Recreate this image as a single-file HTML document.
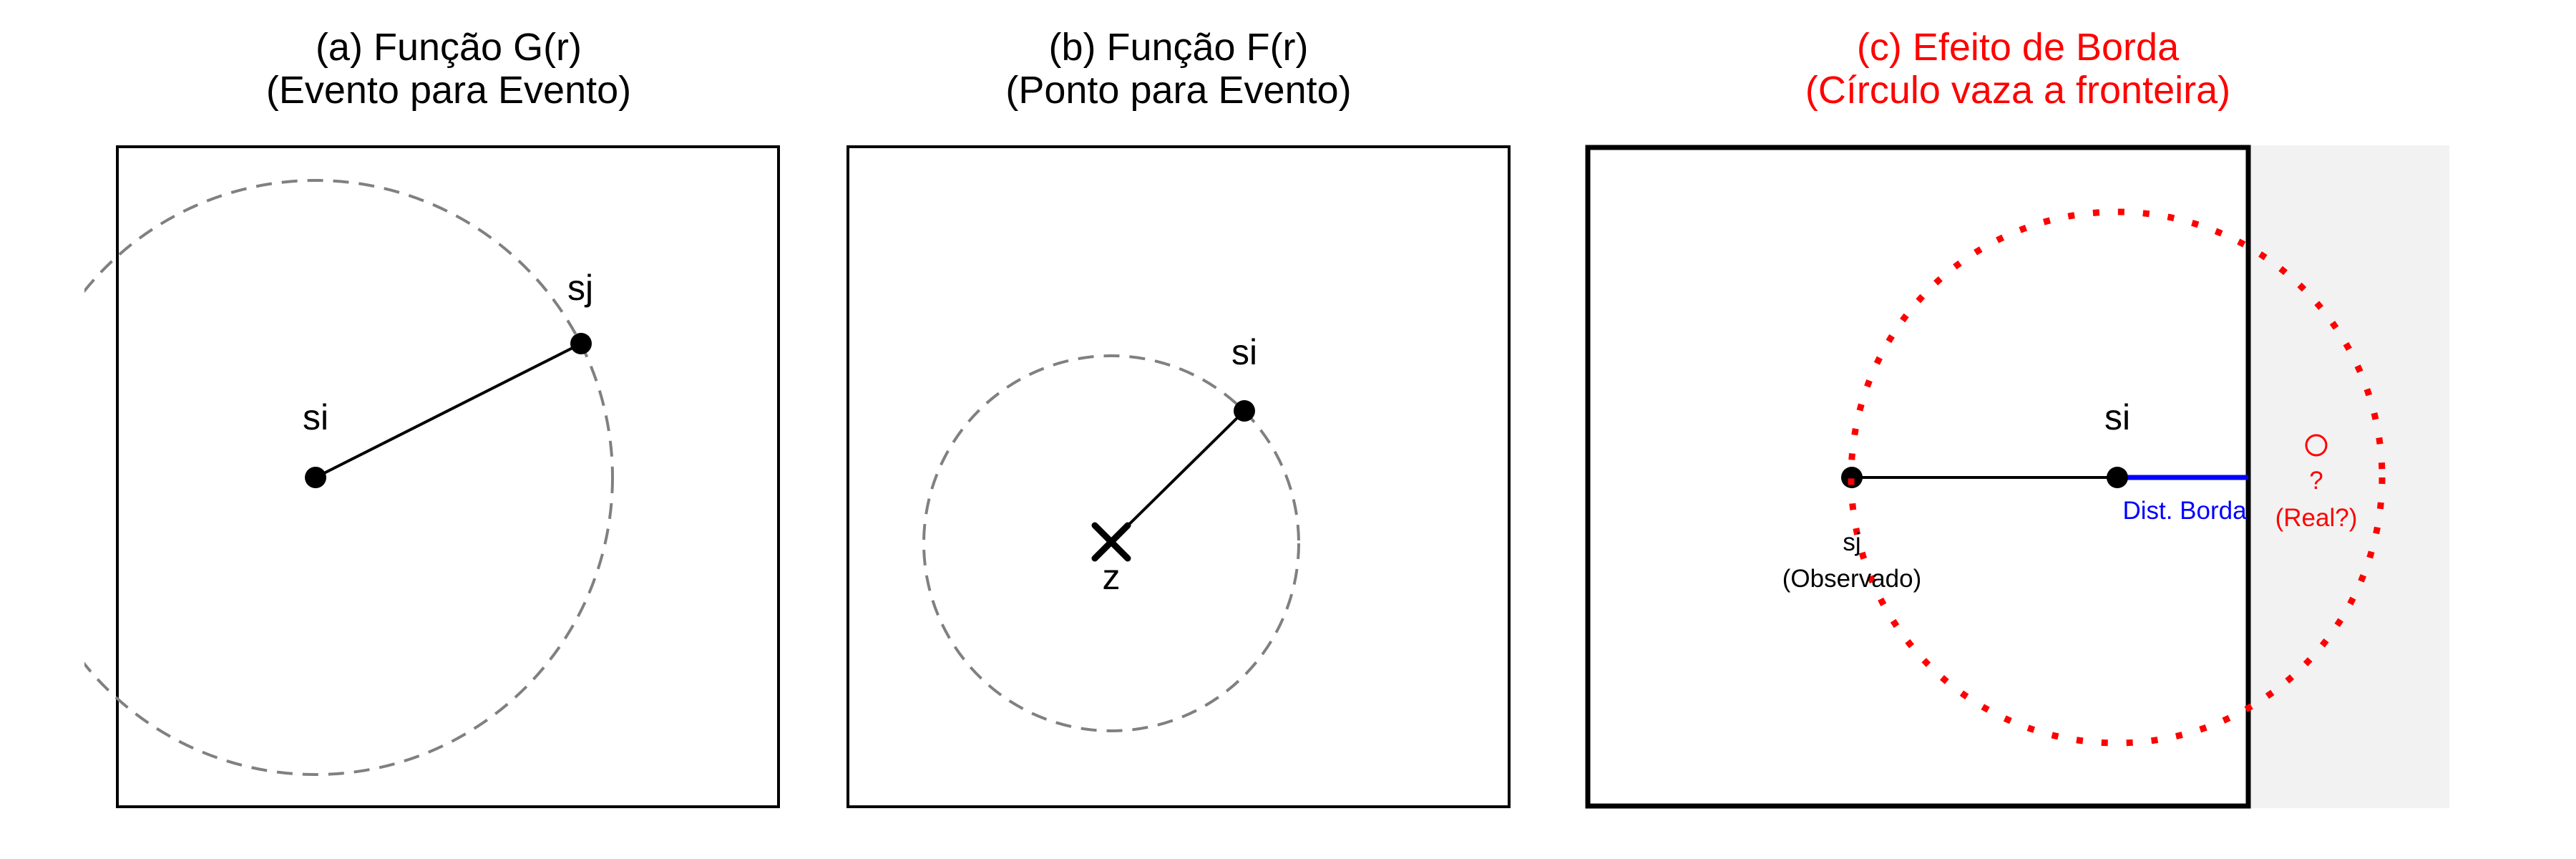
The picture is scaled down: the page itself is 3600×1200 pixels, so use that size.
<!DOCTYPE html>
<html><head><meta charset="utf-8"><style>
html,body{margin:0;padding:0;background:#fff;}
svg{display:block;}
text{font-family:"Liberation Sans",Arial,sans-serif;}
</style></head><body>
<svg width="3600" height="1200" viewBox="0 0 3600 1200" xmlns="http://www.w3.org/2000/svg">
<defs>
<clipPath id="ca"><rect x="118" y="0" width="1100" height="1200"/></clipPath>
<marker id="ah" viewBox="0 0 10 10" refX="9" refY="5" markerWidth="8" markerHeight="8" markerUnits="userSpaceOnUse" orient="auto"><path d="M0,0 L10,5 L0,10" fill="none" stroke="#000" stroke-width="2"/></marker>
</defs>

<!-- Titles -->
<g font-size="54" text-anchor="middle" fill="#000">
<text x="627" y="84">(a) Função G(r)</text>
<text x="627" y="144">(Evento para Evento)</text>
<text x="1647" y="84">(b) Função F(r)</text>
<text x="1647" y="144">(Ponto para Evento)</text>
</g>
<g font-size="54" text-anchor="middle" fill="#ff0000">
<text x="2820" y="84">(c) Efeito de Borda</text>
<text x="2820" y="144">(Círculo vaza a fronteira)</text>
</g>

<!-- Panel a -->
<rect x="164" y="205" width="924" height="922" fill="none" stroke="#000" stroke-width="4"/>
<circle cx="441" cy="667" r="415" fill="none" stroke="#808080" stroke-width="4" stroke-dasharray="22 14" clip-path="url(#ca)"/>
<line x1="441" y1="667" x2="812" y2="480" stroke="#000" stroke-width="4" marker-end="url(#ah)"/>
<circle cx="441" cy="667" r="15" fill="#000"/>
<circle cx="812" cy="480" r="15" fill="#000"/>
<text x="441" y="600" font-size="50" text-anchor="middle">si</text>
<text x="811" y="419" font-size="50" text-anchor="middle">sj</text>

<!-- Panel b -->
<rect x="1185" y="205" width="924" height="922" fill="none" stroke="#000" stroke-width="4"/>
<circle cx="1553" cy="759" r="262" fill="none" stroke="#808080" stroke-width="4" stroke-dasharray="22 14"/>
<line x1="1553" y1="757" x2="1739" y2="574" stroke="#000" stroke-width="4" marker-end="url(#ah)"/>
<circle cx="1739" cy="574" r="15" fill="#000"/>
<g stroke="#000" stroke-width="9" stroke-linecap="round">
<line x1="1530" y1="734" x2="1576" y2="780"/>
<line x1="1576" y1="734" x2="1530" y2="780"/>
</g>
<text x="1739" y="509" font-size="50" text-anchor="middle">si</text>
<text x="1553" y="823" font-size="50" text-anchor="middle">z</text>

<!-- Panel c -->
<rect x="3145" y="203" width="278" height="926" fill="#f2f2f2"/>
<rect x="2219" y="206" width="923" height="920" fill="none" stroke="#000" stroke-width="7"/>
<line x1="2959" y1="667" x2="3142" y2="667" stroke="#0000ff" stroke-width="7"/>
<line x1="2959" y1="667" x2="2590" y2="667" stroke="#000" stroke-width="4" marker-end="url(#ah)"/>
<circle cx="2959" cy="667" r="15" fill="#000"/>
<circle cx="2588" cy="667" r="15" fill="#000"/>
<circle cx="2958" cy="667" r="371" fill="none" stroke="#ff0000" stroke-width="9" stroke-dasharray="9 26"/>
<text x="2959" y="600" font-size="50" text-anchor="middle">si</text>
<text x="3053" y="725" font-size="35" text-anchor="middle" fill="#0000ff">Dist. Borda</text>
<text x="2588" y="769" font-size="35" text-anchor="middle">sj</text>
<text x="2588" y="820" font-size="35" text-anchor="middle">(Observado)</text>
<circle cx="3237" cy="622" r="14" fill="none" stroke="#ff0000" stroke-width="3"/>
<text x="3237" y="683" font-size="35" text-anchor="middle" fill="#ff0000">?</text>
<text x="3237" y="735" font-size="35" text-anchor="middle" fill="#ff0000">(Real?)</text>
</svg>
</body></html>
